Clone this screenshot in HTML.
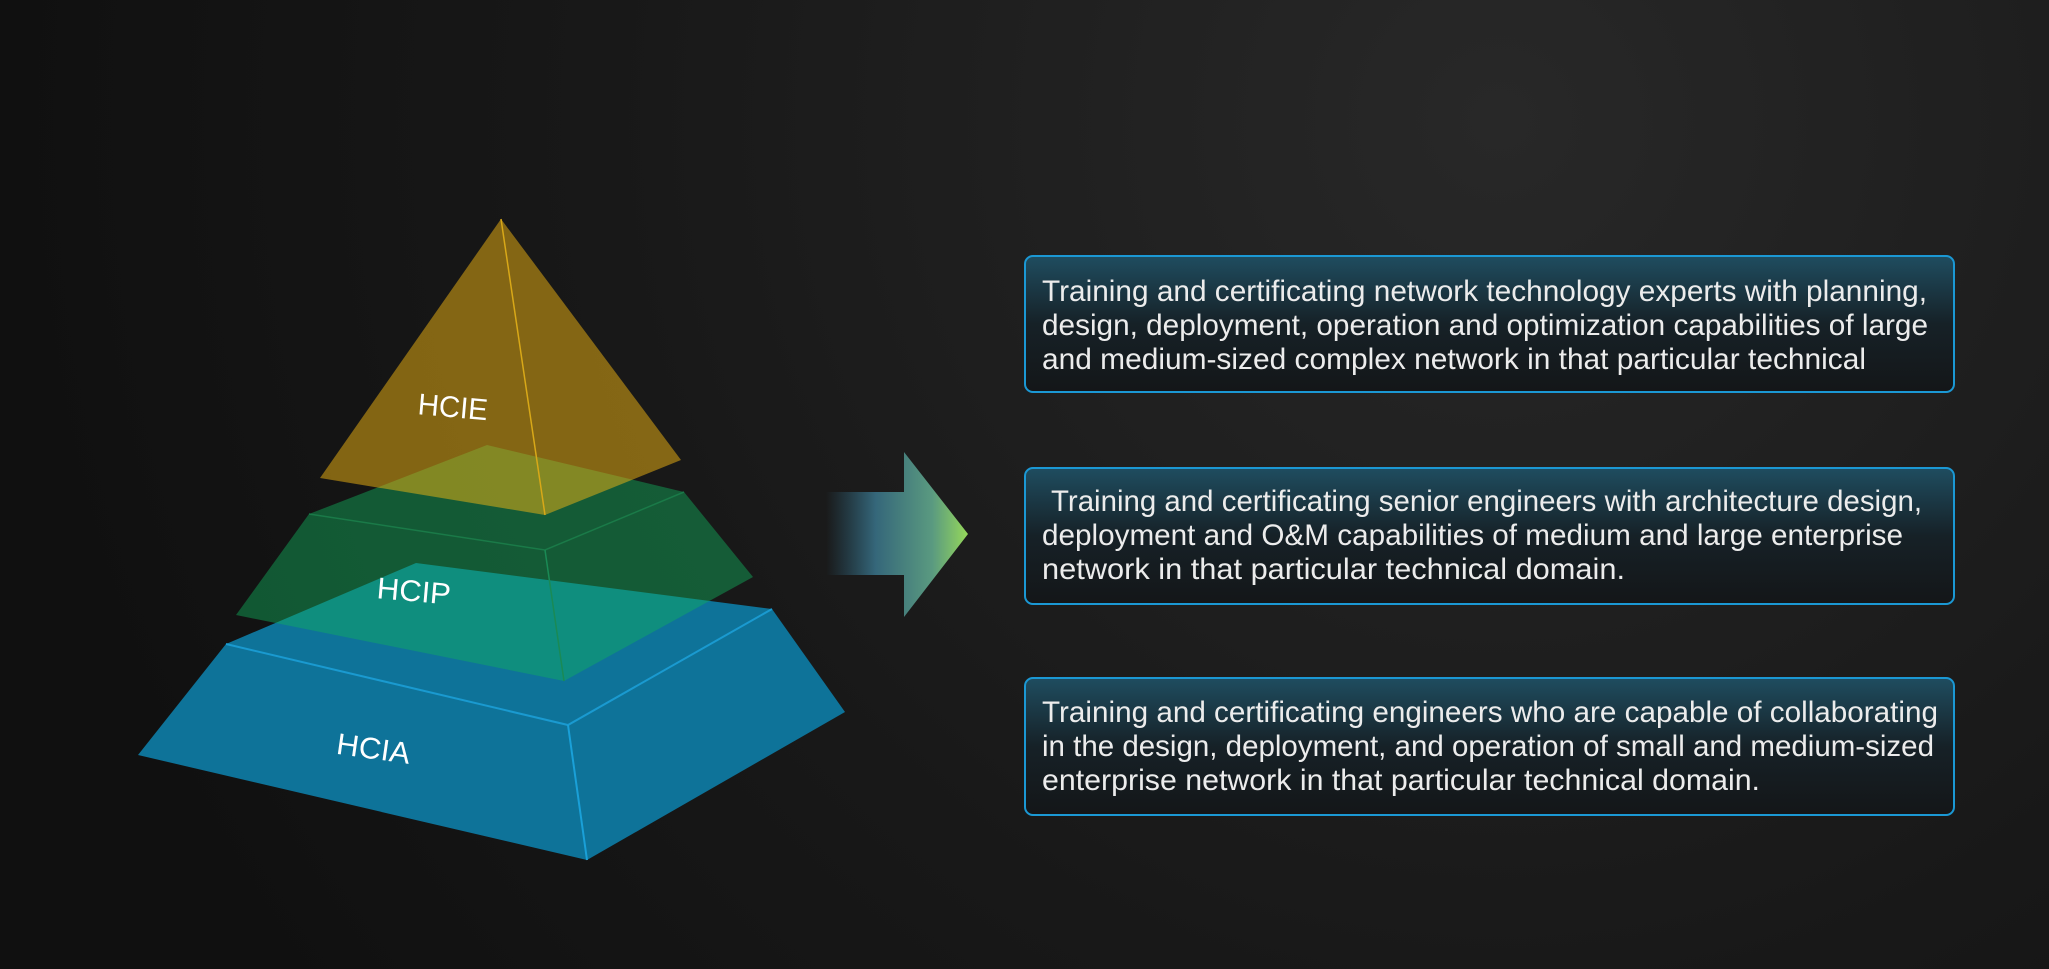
<!DOCTYPE html>
<html><head><meta charset="utf-8"><style>
html,body{margin:0;padding:0;width:2049px;height:969px;overflow:hidden;background:#121212;}
svg{display:block;}
</style></head><body>
<svg width="2049" height="969" viewBox="0 0 2049 969" xmlns="http://www.w3.org/2000/svg">
<defs>
<radialGradient id="bg" cx="1500" cy="120" r="1500" gradientUnits="userSpaceOnUse">
<stop offset="0" stop-color="#282828"/><stop offset="0.6" stop-color="#181818"/><stop offset="1" stop-color="#101010"/>
</radialGradient>
<linearGradient id="box" x1="0" y1="0" x2="0" y2="1">
<stop offset="0" stop-color="#1f4d60"/><stop offset="0.5" stop-color="#162127"/><stop offset="1" stop-color="#141618"/>
</linearGradient>
<linearGradient id="arr" x1="826" y1="0" x2="968" y2="0" gradientUnits="userSpaceOnUse">
<stop offset="0" stop-color="#2a5a70" stop-opacity="0"/><stop offset="0.35" stop-color="#35677a"/><stop offset="0.75" stop-color="#5a9a80"/><stop offset="1" stop-color="#96d85a"/>
</linearGradient>
</defs>
<rect width="2049" height="969" fill="url(#bg)"/>

<polygon points="226,644 416,563 772,609 845,712 587,860 138,755" fill="#0e7399"/>
<polyline points="226,644 568,725 772,609" fill="none" stroke="#1a9ad0" stroke-width="2"/>
<line x1="568" y1="725" x2="587" y2="860" stroke="#1aa0d8" stroke-width="2"/>
<polygon points="487,445 684,492 753,577 564,681 236,615 309,514" fill="rgb(18,176,93)" fill-opacity="0.45"/>
<polyline points="309,514 545,550 684,492" fill="none" stroke="#1a7a48" stroke-width="1.5"/>
<line x1="545" y1="550" x2="564" y2="681" stroke="#1a8a55" stroke-width="1.5"/>
<polygon points="501,219 681,460 545,515 320,478" fill="rgb(242,182,18)" fill-opacity="0.5"/>
<line x1="501" y1="219" x2="545" y2="515" stroke="#d8a818" stroke-width="1.5"/>

<g font-family="Liberation Sans, sans-serif" font-size="30" fill="#ffffff">
<text x="418" y="417" textLength="70" lengthAdjust="spacingAndGlyphs" transform="rotate(5 450 405)">HCIE</text>
<text x="377" y="601" textLength="74" lengthAdjust="spacingAndGlyphs" transform="rotate(5 410 590)">HCIP</text>
<text x="337" y="759" textLength="74" lengthAdjust="spacingAndGlyphs" transform="rotate(8 375 745)">HCIA</text>
</g>

<polygon points="826,492 904,492 904,452 968,534 904,617 904,575 826,575" fill="url(#arr)"/>

<g stroke="#1b98d4" stroke-width="2" fill="url(#box)">
<rect x="1025" y="256" width="929" height="136" rx="8"/>
<rect x="1025" y="468" width="929" height="136" rx="8"/>
<rect x="1025" y="678" width="929" height="137" rx="8"/>
</g>
<g font-family="Liberation Sans, sans-serif" font-size="30" fill="#ececec" xml:space="preserve">
<text x="1042" y="301" textLength="885" lengthAdjust="spacingAndGlyphs">Training and certificating network technology experts with planning,</text>
<text x="1042" y="335" textLength="886" lengthAdjust="spacingAndGlyphs">design, deployment, operation and optimization capabilities of large</text>
<text x="1042" y="369" textLength="824" lengthAdjust="spacingAndGlyphs">and medium-sized complex network in that particular technical</text>
<text x="1051" y="511" textLength="871" lengthAdjust="spacingAndGlyphs">Training and certificating senior engineers with architecture design,</text>
<text x="1042" y="545" textLength="861" lengthAdjust="spacingAndGlyphs">deployment and O&amp;M capabilities of medium and large enterprise</text>
<text x="1042" y="579" textLength="583" lengthAdjust="spacingAndGlyphs">network  in that particular technical domain.</text>
<text x="1042" y="722" textLength="896" lengthAdjust="spacingAndGlyphs">Training and certificating engineers who are capable of collaborating</text>
<text x="1042" y="756" textLength="892" lengthAdjust="spacingAndGlyphs">in the design, deployment, and operation of small and medium-sized</text>
<text x="1042" y="790" textLength="718" lengthAdjust="spacingAndGlyphs">enterprise network  in that particular technical domain.</text>
</g>
</svg>
</body></html>
